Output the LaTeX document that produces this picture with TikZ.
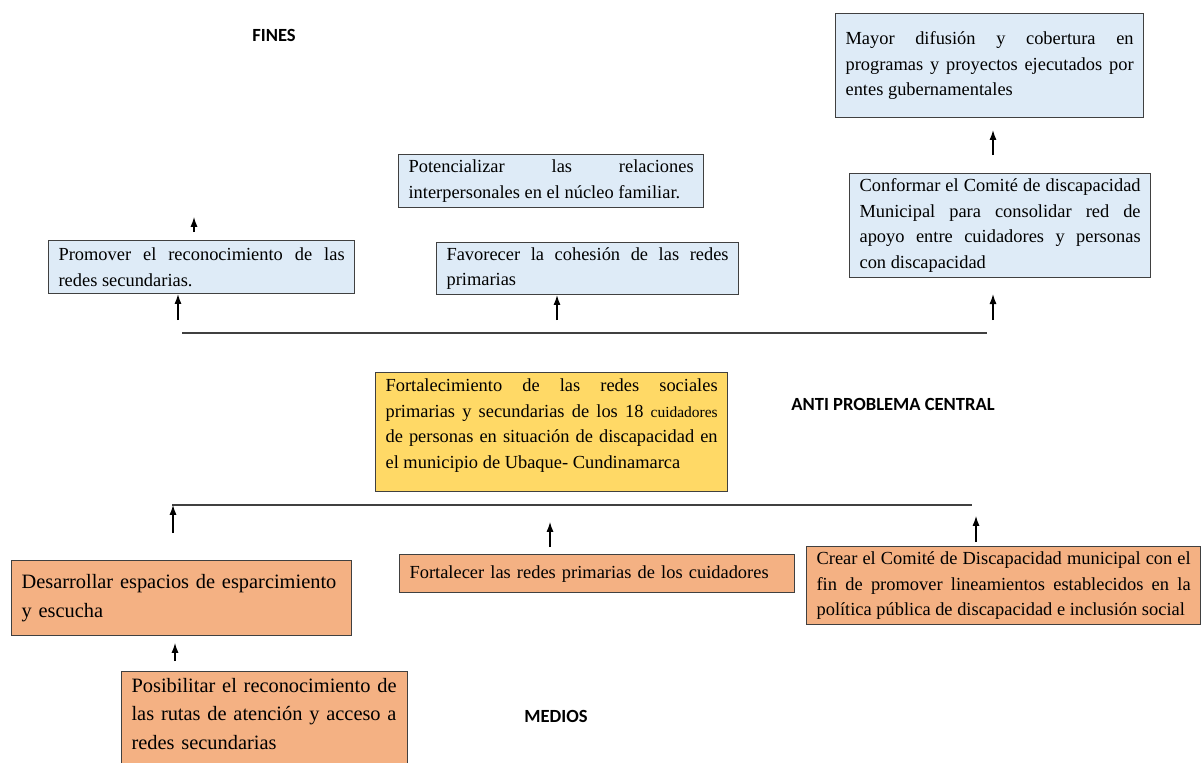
\documentclass[tikz,border=0pt]{standalone}
\usepackage{fontspec}
\setmainfont{Liberation Serif}
\setsansfont{Carlito}
\usepackage{tikz}
\usetikzlibrary{arrows.meta}
\definecolor{finblue}{HTML}{DEEBF7}
\definecolor{centyellow}{HTML}{FFD966}
\definecolor{medorange}{HTML}{F4B183}
\definecolor{edgegray}{HTML}{404040}
\newcommand{\txt}{\fontsize{13.1pt}{18.2pt}\selectfont\tolerance=10000\hyphenpenalty=10000\exhyphenpenalty=10000}
\newcommand{\txtbig}{\fontsize{14.5pt}{20.5pt}\selectfont\tolerance=10000\hyphenpenalty=10000\exhyphenpenalty=10000}

\begin{document}
\begin{tikzpicture}[x=0.025cm, y=-0.025cm,
  box/.style={draw=edgegray, line width=0.8pt, anchor=north west, inner xsep=0.25cm, inner ysep=0.1cm, align=justify, font=\txt},
  fin/.style={box, fill=finblue},
  medio/.style={box, fill=medorange},
  title/.style={font=\sffamily\bfseries\fontsize{13.2pt}{16pt}\selectfont},
  bus/.style={line width=0.9pt, draw=edgegray},
  arr/.style={->, line width=0.8pt},
  >={Latex[length=7pt, width=5pt]}]
\useasboundingbox (0, 0) rectangle (1201, 762);

% fines
\node[title] (fines) at (274, 35) {FINES};
\node[fin, text width=7.2cm, minimum height=2.6cm] (mayor) at (835, 13) {Mayor difusión y cobertura en\linebreak programas y proyectos ejecutados por\linebreak entes gubernamentales};
\node[fin, text width=7.025cm, minimum height=2.6cm] (conformar) at (849, 173) {Conformar el Comité de discapacidad\linebreak Municipal para consolidar red de\linebreak apoyo entre cuidadores y personas\linebreak con discapacidad};
\node[fin, text width=7.125cm, minimum height=1.325cm] (potencial) at (398, 154) {Potencializar las relaciones\linebreak interpersonales en el núcleo familiar.};
\node[fin, text width=7.15cm, minimum height=1.325cm] (promover) at (48, 240) {Promover el reconocimiento de las\linebreak redes secundarias.};
\node[fin, text width=7.05cm, minimum height=1.3cm] (favorecer) at (436, 242) {Favorecer la cohesión de las redes\linebreak primarias};

% anti problema central
\node[box, fill=centyellow, text width=8.3cm, inner ysep=0.16cm, text depth=2.34cm] (central) at (375, 372) {Fortalecimiento de las redes sociales\linebreak primarias y secundarias de los 18 {\fontsize{11pt}{18.2pt}\selectfont cuidadores}\linebreak de personas en situación de discapacidad en\linebreak el municipio de Ubaque- Cundinamarca};
\node[title] (anti) at (893, 404) {ANTI PROBLEMA CENTRAL};

% medios
\node[medio, font=\txtbig, align=left, text width=8cm, minimum height=1.875cm] (desarrollar) at (11, 560) {Desarrollar espacios de esparcimiento\\ y escucha};
\node[medio, align=left, text width=9.375cm, minimum height=0.95cm] (fortalecer) at (399, 554) {Fortalecer las redes primarias de los cuidadores};
\node[medio, text width=9.35cm, minimum height=1.95cm] (crear) at (806, 546) {Crear el Comité de Discapacidad municipal con el\linebreak fin de promover lineamientos establecidos en la\linebreak política pública de discapacidad e inclusión social};
\node[medio, font=\txtbig, align=left, text width=6.65cm, inner ysep=0.16cm, text depth=2.4cm] (posibilitar) at (121, 671) {Posibilitar el reconocimiento de\\ las rutas de atención y acceso a\\ redes secundarias};
\node[title] (medios) at (556, 716) {MEDIOS};

% flechas superiores
\coordinate (b1) at (182, 333);
\coordinate (b2) at (987, 333);
\draw[bus] (b1) -- (b2);
\coordinate (p0) at (194, 217);
\coordinate (p1) at (178, 320);
\coordinate (p2) at (557, 320);
\coordinate (p3) at (993, 320);
\coordinate (p4) at (993, 155);
\draw[arr, shorten <=0.2cm] (p0 |- promover.north) -- (p0);
\draw[arr] (p1) -- (p1 |- promover.south);
\draw[arr] (p2) -- (p2 |- favorecer.south);
\draw[arr, shorten >=0.4cm] (p3) -- (p3 |- conformar.south);
\draw[arr, shorten >=0.3cm] (p4) -- (p4 |- mayor.south);

% flechas inferiores
\coordinate (c1) at (172, 505);
\coordinate (c2) at (972, 505);
\draw[bus] (c1) -- (c2);
\coordinate (q1) at (173, 533);
\coordinate (q2) at (550, 505);
\coordinate (q3) at (976, 505);
\coordinate (q4) at (175, 643);
\draw[arr] (q1) -- (q1 |- c1);
\draw[arr, shorten <=0.175cm, shorten >=0.425cm] (q2 |- fortalecer.north) -- (q2);
\draw[arr, shorten <=0.1cm, shorten >=0.275cm] (q3 |- crear.north) -- (q3);
\draw[arr, shorten <=0.25cm] (q4 |- posibilitar.north) -- (q4);
\end{tikzpicture}
\end{document}
